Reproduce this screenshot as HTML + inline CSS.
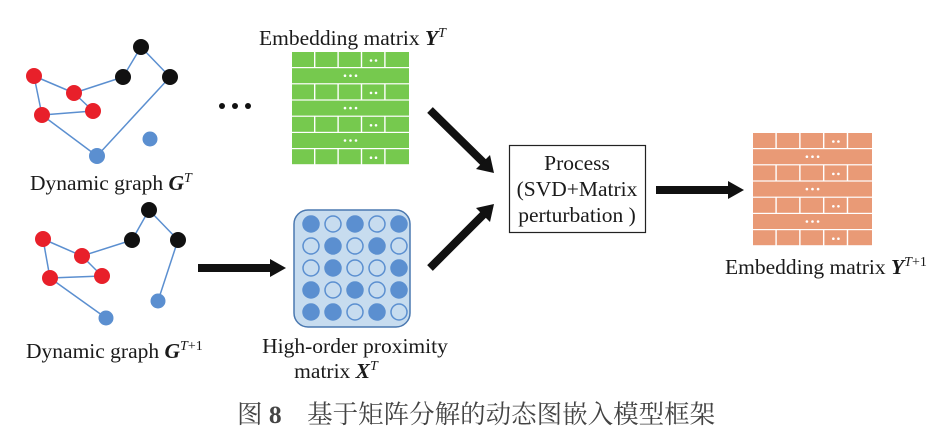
<!DOCTYPE html>
<html><head><meta charset="utf-8"><style>
body{margin:0;background:#fff;}
svg{display:block;}
text{font-family:"Liberation Serif","Noto Serif CJK SC",serif;fill:#1a1a1a;}
</style></head><body>
<svg width="950" height="434" viewBox="0 0 950 434" xmlns="http://www.w3.org/2000/svg">
<defs>
<g id="b5">
<rect x="0" y="0" width="22" height="15"/><rect x="23.4" y="0" width="22" height="15"/><rect x="46.8" y="0" width="22" height="15"/><rect x="70.2" y="0" width="22" height="15"/><rect x="93.6" y="0" width="23.4" height="15"/>
<circle cx="79" cy="8.5" r="1.3" fill="#fff"/><circle cx="84" cy="8.5" r="1.3" fill="#fff"/>
</g>
<g id="bf">
<rect x="0" y="0" width="117" height="15"/>
<circle cx="53" cy="7.5" r="1.3" fill="#fff"/><circle cx="58.5" cy="7.5" r="1.3" fill="#fff"/><circle cx="64" cy="7.5" r="1.3" fill="#fff"/>
</g>
<g id="mat">
<use href="#b5" y="0"/><use href="#bf" y="16.2"/><use href="#b5" y="32.4"/><use href="#bf" y="48.6"/><use href="#b5" y="64.8"/><use href="#bf" y="81"/><use href="#b5" y="97.2"/>
</g>
</defs>

<!-- Graph 1 -->
<g stroke="#5b8fd0" stroke-width="1.5">
<line x1="34" y1="76" x2="42" y2="115"/><line x1="34" y1="76" x2="74" y2="93"/><line x1="74" y1="93" x2="123" y2="77"/><line x1="74" y1="93" x2="93" y2="111"/><line x1="42" y1="115" x2="93" y2="111"/><line x1="42" y1="115" x2="97" y2="156"/><line x1="97" y1="156" x2="170" y2="77"/><line x1="170" y1="77" x2="141" y2="47"/><line x1="141" y1="47" x2="123" y2="77"/>
</g>
<g fill="#e8202a"><circle cx="34" cy="76" r="8"/><circle cx="74" cy="93" r="8"/><circle cx="42" cy="115" r="8"/><circle cx="93" cy="111" r="8"/></g>
<g fill="#111"><circle cx="141" cy="47" r="8"/><circle cx="123" cy="77" r="8"/><circle cx="170" cy="77" r="8"/></g>
<g fill="#5b8fd0"><circle cx="97" cy="156" r="8"/><circle cx="150" cy="139" r="7.5"/></g>
<text x="30" y="190" font-size="21.5">Dynamic graph <tspan font-weight="bold" font-style="italic">G</tspan><tspan font-style="italic" font-size="14" dy="-8">T</tspan></text>

<!-- Graph 2 -->
<g stroke="#5b8fd0" stroke-width="1.5">
<line x1="43" y1="239" x2="50" y2="278"/><line x1="43" y1="239" x2="82" y2="256"/><line x1="82" y1="256" x2="132" y2="240"/><line x1="82" y1="256" x2="102" y2="276"/><line x1="50" y1="278" x2="102" y2="276"/><line x1="50" y1="278" x2="106" y2="318"/><line x1="178" y1="240" x2="158" y2="301"/><line x1="178" y1="240" x2="149" y2="210"/><line x1="149" y1="210" x2="132" y2="240"/>
</g>
<g fill="#e8202a"><circle cx="43" cy="239" r="8"/><circle cx="82" cy="256" r="8"/><circle cx="50" cy="278" r="8"/><circle cx="102" cy="276" r="8"/></g>
<g fill="#111"><circle cx="149" cy="210" r="8"/><circle cx="132" cy="240" r="8"/><circle cx="178" cy="240" r="8"/></g>
<g fill="#5b8fd0"><circle cx="106" cy="318" r="7.5"/><circle cx="158" cy="301" r="7.5"/></g>
<text x="26" y="358" font-size="21.5">Dynamic graph <tspan font-weight="bold" font-style="italic">G</tspan><tspan font-size="14" dy="-8"><tspan font-style="italic">T</tspan>+1</tspan></text>

<!-- dots -->
<g fill="#111"><circle cx="222" cy="106" r="3"/><circle cx="235" cy="106" r="3"/><circle cx="248" cy="106" r="3"/></g>

<!-- Green matrix -->
<text x="259" y="45" font-size="21.5">Embedding matrix <tspan font-weight="bold" font-style="italic">Y</tspan><tspan font-style="italic" font-size="14" dy="-8">T</tspan></text>
<g fill="#76c94e"><use href="#mat" transform="translate(292,52)"/></g>

<!-- Proximity matrix -->
<rect x="294" y="210" width="116" height="117" rx="14" fill="#c7dcef" stroke="#4a78b0" stroke-width="1.5"/>
<g stroke="#5b8fd0" stroke-width="1.5" fill="#5b8fd0">
<circle cx="311" cy="224" r="8"/><circle cx="333" cy="224" r="8" fill="none"/><circle cx="355" cy="224" r="8"/><circle cx="377" cy="224" r="8" fill="none"/><circle cx="399" cy="224" r="8"/>
<circle cx="311" cy="246" r="8" fill="none"/><circle cx="333" cy="246" r="8"/><circle cx="355" cy="246" r="8" fill="none"/><circle cx="377" cy="246" r="8"/><circle cx="399" cy="246" r="8" fill="none"/>
<circle cx="311" cy="268" r="8" fill="none"/><circle cx="333" cy="268" r="8"/><circle cx="355" cy="268" r="8" fill="none"/><circle cx="377" cy="268" r="8" fill="none"/><circle cx="399" cy="268" r="8"/>
<circle cx="311" cy="290" r="8"/><circle cx="333" cy="290" r="8" fill="none"/><circle cx="355" cy="290" r="8"/><circle cx="377" cy="290" r="8" fill="none"/><circle cx="399" cy="290" r="8"/>
<circle cx="311" cy="312" r="8"/><circle cx="333" cy="312" r="8"/><circle cx="355" cy="312" r="8" fill="none"/><circle cx="377" cy="312" r="8"/><circle cx="399" cy="312" r="8" fill="none"/>
</g>
<text x="355" y="353" font-size="21.5" text-anchor="middle">High-order proximity</text>
<text x="336" y="378" font-size="21.5" text-anchor="middle">matrix <tspan font-weight="bold" font-style="italic">X</tspan><tspan font-style="italic" font-size="14" dy="-8">T</tspan></text>

<!-- Arrows -->
<g fill="#111">
<rect x="198" y="264" width="74" height="8"/><polygon points="270,259 286,268 270,277"/>
<line x1="430" y1="110" x2="484" y2="163" stroke="#111" stroke-width="8"/><polygon points="494,173 476,169 490,155"/>
<line x1="430" y1="268" x2="484" y2="214" stroke="#111" stroke-width="8"/><polygon points="494,204 490,222 476,208"/>
<rect x="656" y="186" width="74" height="8"/><polygon points="728,181 744,190 728,199"/>
</g>

<!-- Process box -->
<rect x="509.5" y="145.5" width="136" height="87" fill="#fff" stroke="#222" stroke-width="1.2"/>
<text x="577" y="170" font-size="21.5" text-anchor="middle">Process</text>
<text x="577" y="196" font-size="21.5" text-anchor="middle">(SVD+Matrix</text>
<text x="577" y="222" font-size="21.5" text-anchor="middle">perturbation )</text>

<!-- Orange matrix -->
<g fill="#e99a76"><use href="#mat" transform="translate(753,133) scale(1.017,1)"/></g>
<text x="725" y="274" font-size="21.5">Embedding matrix <tspan font-weight="bold" font-style="italic">Y</tspan><tspan font-size="14" dy="-8"><tspan font-style="italic">T</tspan>+1</tspan></text>

<!-- Caption -->
<text x="237" y="423" font-size="25.5" style="fill:#444">图 <tspan font-weight="bold">8</tspan>　基于矩阵分解的动态图嵌入模型框架</text>
</svg>
</body></html>
